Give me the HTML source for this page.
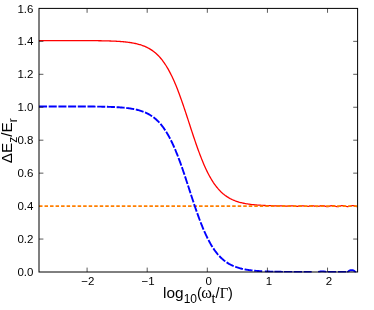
<!DOCTYPE html>
<html><head><meta charset="utf-8"><style>
html,body{margin:0;padding:0;background:#fff;}
svg{display:block;will-change:transform}
text{font-family:"Liberation Sans",sans-serif;fill:#000}
.tl{font-size:11.5px}
.sb{font-size:11.6px}
.sb2{font-size:12.2px}
.sy{font-family:"Liberation Serif",serif}
.tk{stroke:#000;stroke-width:0.65}
</style></head><body>
<svg width="374" height="310" viewBox="0 0 374 310">
<clipPath id="c"><rect x="39.0" y="8.4" width="318.6" height="264.15"/></clipPath>
<line x1="87.09" y1="272.00" x2="87.09" y2="267.60" class="tk"/><line x1="87.09" y1="8.40" x2="87.09" y2="12.80" class="tk"/><text x="87.89" y="284.8" text-anchor="middle" class="tl">−2</text><line x1="147.20" y1="272.00" x2="147.20" y2="267.60" class="tk"/><line x1="147.20" y1="8.40" x2="147.20" y2="12.80" class="tk"/><text x="148.00" y="284.8" text-anchor="middle" class="tl">−1</text><line x1="207.32" y1="272.00" x2="207.32" y2="267.60" class="tk"/><line x1="207.32" y1="8.40" x2="207.32" y2="12.80" class="tk"/><text x="208.82" y="284.8" text-anchor="middle" class="tl">0</text><line x1="267.43" y1="272.00" x2="267.43" y2="267.60" class="tk"/><line x1="267.43" y1="8.40" x2="267.43" y2="12.80" class="tk"/><text x="268.93" y="284.8" text-anchor="middle" class="tl">1</text><line x1="327.54" y1="272.00" x2="327.54" y2="267.60" class="tk"/><line x1="327.54" y1="8.40" x2="327.54" y2="12.80" class="tk"/><text x="329.04" y="284.8" text-anchor="middle" class="tl">2</text><text x="33.4" y="276.10" text-anchor="end" class="tl">0.0</text><line x1="39.00" y1="239.05" x2="43.40" y2="239.05" class="tk"/><line x1="357.60" y1="239.05" x2="353.20" y2="239.05" class="tk"/><text x="33.4" y="243.15" text-anchor="end" class="tl">0.2</text><text x="33.4" y="210.20" text-anchor="end" class="tl">0.4</text><line x1="39.00" y1="173.15" x2="43.40" y2="173.15" class="tk"/><line x1="357.60" y1="173.15" x2="353.20" y2="173.15" class="tk"/><text x="33.4" y="177.25" text-anchor="end" class="tl">0.6</text><line x1="39.00" y1="140.20" x2="43.40" y2="140.20" class="tk"/><line x1="357.60" y1="140.20" x2="353.20" y2="140.20" class="tk"/><text x="33.4" y="144.30" text-anchor="end" class="tl">0.8</text><line x1="39.00" y1="107.25" x2="43.40" y2="107.25" class="tk"/><line x1="357.60" y1="107.25" x2="353.20" y2="107.25" class="tk"/><text x="33.4" y="111.35" text-anchor="end" class="tl">1.0</text><line x1="39.00" y1="74.30" x2="43.40" y2="74.30" class="tk"/><line x1="357.60" y1="74.30" x2="353.20" y2="74.30" class="tk"/><text x="33.4" y="78.40" text-anchor="end" class="tl">1.2</text><line x1="39.00" y1="41.35" x2="43.40" y2="41.35" class="tk"/><line x1="357.60" y1="41.35" x2="353.20" y2="41.35" class="tk"/><text x="33.4" y="45.45" text-anchor="end" class="tl">1.4</text><text x="33.4" y="12.50" text-anchor="end" class="tl">1.6</text>
<rect x="39.0" y="8.4" width="318.6" height="263.6" fill="none" stroke="#000" stroke-width="1.0"/>
<g clip-path="url(#c)" style="mix-blend-mode:multiply">
<path d="M39.00,40.53 L39.80,40.53 L40.59,40.53 L41.39,40.53 L42.19,40.53 L42.98,40.53 L43.78,40.53 L44.58,40.53 L45.37,40.53 L46.17,40.53 L46.96,40.53 L47.76,40.53 L48.56,40.53 L49.35,40.53 L50.15,40.53 L50.95,40.53 L51.74,40.53 L52.54,40.53 L53.34,40.53 L54.13,40.53 L54.93,40.53 L55.73,40.53 L56.52,40.53 L57.32,40.54 L58.12,40.54 L58.91,40.54 L59.71,40.54 L60.51,40.54 L61.30,40.54 L62.10,40.54 L62.89,40.54 L63.69,40.54 L64.49,40.54 L65.28,40.54 L66.08,40.54 L66.88,40.54 L67.67,40.55 L68.47,40.55 L69.27,40.55 L70.06,40.55 L70.86,40.55 L71.66,40.55 L72.45,40.55 L73.25,40.56 L74.05,40.56 L74.84,40.56 L75.64,40.56 L76.44,40.56 L77.23,40.57 L78.03,40.57 L78.82,40.57 L79.62,40.57 L80.42,40.58 L81.21,40.58 L82.01,40.58 L82.81,40.59 L83.60,40.59 L84.40,40.59 L85.20,40.60 L85.99,40.60 L86.79,40.61 L87.59,40.61 L88.38,40.62 L89.18,40.62 L89.98,40.63 L90.77,40.64 L91.57,40.64 L92.37,40.65 L93.16,40.66 L93.96,40.67 L94.75,40.67 L95.55,40.68 L96.35,40.69 L97.14,40.70 L97.94,40.71 L98.74,40.73 L99.53,40.74 L100.33,40.75 L101.13,40.76 L101.92,40.78 L102.72,40.79 L103.52,40.81 L104.31,40.83 L105.11,40.85 L105.91,40.86 L106.70,40.89 L107.50,40.91 L108.30,40.93 L109.09,40.95 L109.89,40.98 L110.68,41.01 L111.48,41.04 L112.28,41.07 L113.07,41.10 L113.87,41.14 L114.67,41.17 L115.46,41.21 L116.26,41.25 L117.06,41.30 L117.85,41.35 L118.65,41.40 L119.45,41.45 L120.24,41.50 L121.04,41.56 L121.84,41.63 L122.63,41.69 L123.43,41.76 L124.23,41.84 L125.02,41.92 L125.82,42.00 L126.61,42.09 L127.41,42.19 L128.21,42.29 L129.00,42.39 L129.80,42.50 L130.60,42.62 L131.39,42.75 L132.19,42.88 L132.99,43.02 L133.78,43.17 L134.58,43.33 L135.38,43.50 L136.17,43.68 L136.97,43.87 L137.77,44.07 L138.56,44.28 L139.36,44.50 L140.16,44.74 L140.95,44.99 L141.75,45.25 L142.54,45.53 L143.34,45.83 L144.14,46.14 L144.93,46.47 L145.73,46.82 L146.53,47.18 L147.32,47.57 L148.12,47.98 L148.92,48.42 L149.71,48.87 L150.51,49.35 L151.31,49.86 L152.10,50.40 L152.90,50.96 L153.70,51.56 L154.49,52.18 L155.29,52.84 L156.09,53.53 L156.88,54.26 L157.68,55.02 L158.47,55.82 L159.27,56.67 L160.07,57.55 L160.86,58.47 L161.66,59.44 L162.46,60.46 L163.25,61.52 L164.05,62.63 L164.85,63.79 L165.64,65.00 L166.44,66.26 L167.24,67.57 L168.03,68.93 L168.83,70.36 L169.63,71.83 L170.42,73.36 L171.22,74.95 L172.02,76.59 L172.81,78.29 L173.61,80.04 L174.41,81.85 L175.20,83.71 L176.00,85.62 L176.79,87.59 L177.59,89.61 L178.39,91.68 L179.18,93.80 L179.98,95.96 L180.78,98.16 L181.57,100.40 L182.37,102.68 L183.17,105.00 L183.96,107.34 L184.76,109.71 L185.56,112.11 L186.35,114.52 L187.15,116.95 L187.95,119.39 L188.74,121.84 L189.54,124.29 L190.34,126.74 L191.13,129.18 L191.93,131.61 L192.72,134.03 L193.52,136.43 L194.32,138.80 L195.11,141.16 L195.91,143.48 L196.71,145.76 L197.50,148.01 L198.30,150.23 L199.10,152.40 L199.89,154.52 L200.69,156.60 L201.49,158.63 L202.28,160.61 L203.08,162.53 L203.88,164.41 L204.67,166.23 L205.47,167.99 L206.27,169.70 L207.06,171.35 L207.86,172.95 L208.65,174.49 L209.45,175.98 L210.25,177.41 L211.04,178.78 L211.84,180.11 L212.64,181.38 L213.43,182.60 L214.23,183.77 L215.03,184.89 L215.82,185.96 L216.62,186.98 L217.42,187.96 L218.21,188.89 L219.01,189.78 L219.81,190.63 L220.60,191.44 L221.40,192.22 L222.19,192.95 L222.99,193.65 L223.79,194.31 L224.58,194.95 L225.38,195.55 L226.18,196.12 L226.97,196.66 L227.77,197.17 L228.57,197.66 L229.36,198.12 L230.16,198.56 L230.96,198.97 L231.75,199.36 L232.55,199.74 L233.35,200.09 L234.14,200.42 L234.94,200.74 L235.74,201.04 L236.53,201.32 L237.33,201.59 L238.12,201.84 L238.92,202.08 L239.72,202.30 L240.51,202.52 L241.31,202.72 L242.11,202.91 L242.90,203.09 L243.70,203.26 L244.50,203.42 L245.29,203.57 L246.09,203.72 L246.89,203.85 L247.68,203.98 L248.48,204.10 L249.28,204.21 L250.07,204.32 L250.87,204.42 L251.67,204.52 L252.46,204.61 L253.26,204.69 L254.06,204.77 L254.85,204.85 L255.65,204.92 L256.44,204.99 L257.24,205.05 L258.04,205.11 L258.83,205.17 L259.63,205.22 L260.43,205.27 L261.22,205.32 L262.02,205.36 L262.82,205.40 L263.61,205.44 L264.41,205.48 L265.21,205.52 L266.00,205.55 L266.80,205.58 L267.60,205.61 L268.39,205.64 L269.19,205.66 L269.99,205.68 L270.78,205.69 L271.58,205.70 L272.37,205.73 L273.17,205.76 L273.97,205.81 L274.76,205.85 L275.56,205.89 L276.36,205.92 L277.15,205.93 L277.95,205.92 L278.75,205.89 L279.54,205.85 L280.34,205.82 L281.14,205.81 L281.93,205.82 L282.73,205.86 L283.53,205.92 L284.32,206.00 L285.12,206.07 L285.91,206.12 L286.71,206.14 L287.51,206.12 L288.30,206.06 L289.10,205.99 L289.90,205.91 L290.69,205.85 L291.49,205.82 L292.29,205.84 L293.08,205.90 L293.88,206.00 L294.68,206.11 L295.47,206.21 L296.27,206.27 L297.07,206.28 L297.86,206.23 L298.66,206.13 L299.46,206.01 L300.25,205.89 L301.05,205.81 L301.84,205.78 L302.64,205.82 L303.44,205.92 L304.23,206.06 L305.03,206.21 L305.83,206.33 L306.62,206.39 L307.42,206.38 L308.22,206.30 L309.01,206.16 L309.81,205.99 L310.61,205.84 L311.40,205.74 L312.20,205.72 L313.00,205.78 L313.79,205.92 L314.59,206.11 L315.39,206.29 L316.18,206.43 L316.98,206.49 L317.77,206.46 L318.57,206.34 L319.37,206.15 L320.16,205.94 L320.96,205.76 L321.76,205.66 L322.55,205.65 L323.35,205.75 L324.15,205.93 L324.94,206.16 L325.74,206.38 L326.54,206.53 L327.33,206.59 L328.13,206.52 L328.93,206.35 L329.72,206.12 L330.52,205.89 L331.32,205.70 L332.11,205.61 L332.91,205.63 L333.70,205.76 L334.50,205.97 L335.30,206.21 L336.09,206.42 L336.89,206.56 L337.69,206.59 L338.48,206.50 L339.28,206.32 L340.08,206.08 L340.87,205.85 L341.67,205.68 L342.47,205.60 L343.26,205.65 L344.06,205.80 L344.86,206.02 L345.65,206.26 L346.45,206.46 L347.25,206.58 L348.04,206.58 L348.84,206.47 L349.63,206.28 L350.43,206.04 L351.23,205.81 L352.02,205.66 L352.82,205.61 L353.62,205.67 L354.41,205.83 L355.21,206.06 L356.01,206.30 L356.80,206.49 L357.60,206.59" fill="none" stroke="#ff0000" stroke-width="1.3"/>
<line x1="39.0" y1="206.10" x2="357.6" y2="206.10" stroke="#ff7f00" stroke-width="1.7" stroke-dasharray="3.5,2.02"/>
<path d="M39.00,106.43 L39.75,106.43 L40.50,106.43 L41.24,106.43 L41.99,106.43 L42.74,106.43 L43.49,106.43 L44.24,106.43 L44.98,106.43 L45.73,106.43 L46.48,106.43 L47.23,106.43 L47.98,106.43 L48.72,106.43 L49.47,106.43 L50.22,106.43 L50.97,106.43 L51.72,106.43 L52.46,106.43 L53.21,106.43 L53.96,106.43 L54.71,106.43 L55.46,106.43 L56.20,106.43 L56.95,106.44 L57.70,106.44 L58.45,106.44 L59.20,106.44 L59.94,106.44 L60.69,106.44 L61.44,106.44 L62.19,106.44 L62.94,106.44 L63.68,106.44 L64.43,106.44 L65.18,106.44 L65.93,106.44 L66.68,106.44 L67.42,106.45 L68.17,106.45 L68.92,106.45 L69.67,106.45 L70.42,106.45 L71.16,106.45 L71.91,106.45 L72.66,106.45 L73.41,106.46 L74.16,106.46 L74.90,106.46 L75.65,106.46 L76.40,106.46 L77.15,106.47 L77.90,106.47 L78.64,106.47 L79.39,106.47 L80.14,106.48 L80.89,106.48 L81.64,106.48 L82.38,106.49 L83.13,106.49 L83.88,106.49 L84.63,106.50 L85.38,106.50 L86.12,106.50 L86.87,106.51 L87.62,106.51 L88.37,106.52 L89.12,106.52 L89.86,106.53 L90.61,106.53 L91.36,106.54 L92.11,106.55 L92.86,106.55 L93.60,106.56 L94.35,106.57 L95.10,106.58 L95.85,106.59 L96.60,106.60 L97.34,106.61 L98.09,106.62 L98.84,106.63 L99.59,106.64 L100.34,106.65 L101.08,106.66 L101.83,106.68 L102.58,106.69 L103.33,106.71 L104.08,106.72 L104.82,106.74 L105.57,106.76 L106.32,106.78 L107.07,106.80 L107.82,106.82 L108.56,106.84 L109.31,106.86 L110.06,106.89 L110.81,106.91 L111.56,106.94 L112.30,106.97 L113.05,107.00 L113.80,107.03 L114.55,107.07 L115.30,107.10 L116.04,107.14 L116.79,107.18 L117.54,107.23 L118.29,107.27 L119.04,107.32 L119.78,107.37 L120.53,107.43 L121.28,107.48 L122.03,107.54 L122.78,107.61 L123.52,107.67 L124.27,107.74 L125.02,107.82 L125.77,107.90 L126.52,107.98 L127.26,108.07 L128.01,108.16 L128.76,108.26 L129.51,108.36 L130.26,108.47 L131.00,108.59 L131.75,108.71 L132.50,108.84 L133.25,108.97 L134.00,109.12 L134.74,109.27 L135.49,109.43 L136.24,109.59 L136.99,109.77 L137.74,109.96 L138.48,110.16 L139.23,110.36 L139.98,110.58 L140.73,110.81 L141.48,111.06 L142.22,111.32 L142.97,111.59 L143.72,111.87 L144.47,112.17 L145.22,112.49 L145.96,112.82 L146.71,113.17 L147.46,113.54 L148.21,113.93 L148.96,114.34 L149.70,114.77 L150.45,115.22 L151.20,115.69 L151.95,116.19 L152.70,116.72 L153.44,117.26 L154.19,117.84 L154.94,118.45 L155.69,119.08 L156.44,119.75 L157.18,120.44 L157.93,121.17 L158.68,121.94 L159.43,122.74 L160.18,123.57 L160.92,124.45 L161.67,125.36 L162.42,126.31 L163.17,127.30 L163.92,128.34 L164.66,129.42 L165.41,130.54 L166.16,131.71 L166.91,132.92 L167.66,134.18 L168.40,135.49 L169.15,136.85 L169.90,138.25 L170.65,139.70 L171.40,141.21 L172.14,142.76 L172.89,144.36 L173.64,146.01 L174.39,147.71 L175.14,149.45 L175.88,151.25 L176.63,153.09 L177.38,154.97 L178.13,156.90 L178.88,158.87 L179.62,160.88 L180.37,162.93 L181.12,165.02 L181.87,167.14 L182.62,169.29 L183.36,171.48 L184.11,173.68 L184.86,175.91 L185.61,178.17 L186.36,180.43 L187.10,182.71 L187.85,185.01 L188.60,187.30 L189.35,189.60 L190.10,191.90 L190.84,194.20 L191.59,196.49 L192.34,198.76 L193.09,201.03 L193.84,203.27 L194.58,205.49 L195.33,207.69 L196.08,209.87 L196.83,212.01 L197.58,214.12 L198.32,216.19 L199.07,218.23 L199.82,220.23 L200.57,222.18 L201.32,224.10 L202.06,225.97 L202.81,227.79 L203.56,229.57 L204.31,231.30 L205.06,232.98 L205.80,234.62 L206.55,236.20 L207.30,237.74 L208.05,239.22 L208.80,240.66 L209.54,242.05 L210.29,243.39 L211.04,244.68 L211.79,245.92 L212.54,247.12 L213.28,248.27 L214.03,249.38 L214.78,250.44 L215.53,251.46 L216.28,252.44 L217.02,253.38 L217.77,254.28 L218.52,255.14 L219.27,255.97 L220.02,256.75 L220.76,257.50 L221.51,258.22 L222.26,258.91 L223.01,259.56 L223.76,260.19 L224.50,260.78 L225.25,261.35 L226.00,261.89 L226.75,262.41 L227.50,262.90 L228.24,263.36 L228.99,263.81 L229.74,264.23 L230.49,264.63 L231.24,265.01 L231.98,265.37 L232.73,265.72 L233.48,266.05 L234.23,266.36 L234.98,266.65 L235.72,266.93 L236.47,267.20 L237.22,267.45 L237.97,267.69 L238.72,267.92 L239.46,268.13 L240.21,268.34 L240.96,268.53 L241.71,268.72 L242.46,268.89 L243.20,269.06 L243.95,269.21 L244.70,269.36 L245.45,269.50 L246.20,269.63 L246.94,269.76 L247.69,269.88 L248.44,269.99 L249.19,270.10 L249.94,270.20 L250.68,270.30 L251.43,270.39 L252.18,270.48 L252.93,270.56 L253.68,270.63 L254.42,270.71 L255.17,270.78 L255.92,270.84 L256.67,270.90 L257.42,270.96 L258.16,271.02 L258.91,271.07 L259.66,271.12 L260.41,271.17 L261.16,271.21 L261.90,271.26 L262.65,271.30 L263.40,271.33" fill="none" stroke="#0000ff" stroke-width="1.9" stroke-dasharray="8.05,1.65"/>
<path d="M264.80,271.40 L265.08,271.41 L265.37,271.42 L265.65,271.44 L265.93,271.45 L266.22,271.46 L266.50,271.47 L266.78,271.48 L267.07,271.49 L267.35,271.50 L267.63,271.51 L267.92,271.52 L268.20,271.53 L268.48,271.54 L268.77,271.55 L269.05,271.56 L269.33,271.57 L269.62,271.58 L269.90,271.59 L270.18,271.60 L270.47,271.61 L270.75,271.61 L271.03,271.62 L271.32,271.63 L271.60,271.64 L271.88,271.64 L272.17,271.65 L272.45,271.66 L272.73,271.67 L273.02,271.67 L273.30,271.68 M274.40,271.71 L274.68,271.71 L274.97,271.72 L275.25,271.72 L275.53,271.73 L275.82,271.73 L276.10,271.74 L276.38,271.75 L276.67,271.75 L276.95,271.76 L277.23,271.76 L277.52,271.77 L277.80,271.77 L278.08,271.78 L278.37,271.78 L278.65,271.79 L278.93,271.79 L279.22,271.79 L279.50,271.80 L279.78,271.80 L280.07,271.81 L280.35,271.81 L280.63,271.81 L280.92,271.82 L281.20,271.82 L281.48,271.83 L281.77,271.83 L282.05,271.83 L282.33,271.84 L282.62,271.84 L282.90,271.84 M284.00,271.86 L284.28,271.86 L284.55,271.86 L284.83,271.86 L285.11,271.87 L285.38,271.87 L285.66,271.87 L285.94,271.87 L286.21,271.88 L286.49,271.88 L286.77,271.88 L287.04,271.88 L287.32,271.89 L287.60,271.89 L287.87,271.89 L288.15,271.89 L288.43,271.90 L288.70,271.90 L288.98,271.90 L289.26,271.90 L289.53,271.90 L289.81,271.91 L290.09,271.91 L290.36,271.91 L290.64,271.91 L290.92,271.91 L291.19,271.92 L291.47,271.92 L291.75,271.92 L292.02,271.92 L292.30,271.92 M293.70,271.93 L293.98,271.93 L294.26,271.93 L294.54,271.93 L294.82,271.94 L295.10,271.94 L295.38,271.94 L295.66,271.94 L295.94,271.94 L296.22,271.94 L296.50,271.94 L296.78,271.94 L297.06,271.95 L297.34,271.95 L297.62,271.95 L297.90,271.95 L298.18,271.95 L298.46,271.95 L298.74,271.95 L299.02,271.95 L299.30,271.95 L299.58,271.95 L299.86,271.96 L300.14,271.96 L300.42,271.96 L300.70,271.96 L300.98,271.96 L301.26,271.96 L301.54,271.96 L301.82,271.96 L302.10,271.96 M303.70,271.97 L303.97,271.97 L304.23,271.97 L304.50,271.97 L304.77,271.97 L305.03,271.97 L305.30,271.97 L305.57,271.97 L305.83,271.97 L306.10,271.97 L306.37,271.97 L306.63,271.97 L306.90,271.97 L307.17,271.97 L307.43,271.97 L307.70,271.98 L307.97,271.98 L308.23,271.98 L308.50,271.98 L308.77,271.98 L309.03,271.98 L309.30,271.98 L309.57,271.98 L309.83,271.98 L310.10,271.98 L310.37,271.98 L310.63,271.98 L310.90,271.98 L311.17,271.98 L311.43,271.98 L311.70,271.98 M318.10,271.90 L318.38,271.87 L318.66,271.84 L318.94,271.80 L319.22,271.76 L319.50,271.72 L319.78,271.67 L320.06,271.61 L320.34,271.56 L320.62,271.51 L320.90,271.46 L321.18,271.42 L321.46,271.38 L321.74,271.36 L322.02,271.34 L322.30,271.33 L322.58,271.34 L322.86,271.35 L323.14,271.38 L323.42,271.42 L323.70,271.46 L323.98,271.51 L324.26,271.56 L324.54,271.61 L324.82,271.66 L325.10,271.71 L325.38,271.76 L325.66,271.80 L325.94,271.84 L326.22,271.87 L326.50,271.90 M327.80,271.97 L328.08,271.98 L328.35,271.98 L328.63,271.99 L328.91,271.99 L329.18,271.99 L329.46,271.99 L329.74,271.99 L330.01,271.99 L330.29,271.99 L330.57,272.00 L330.84,272.00 L331.12,272.00 L331.40,272.00 L331.67,272.00 L331.95,272.00 L332.23,272.00 L332.50,272.00 L332.78,272.00 L333.06,272.00 L333.33,272.00 L333.61,272.00 L333.89,272.00 L334.16,272.00 L334.44,272.00 L334.72,272.00 L334.99,272.00 L335.27,272.00 L335.55,272.00 L335.82,272.00 L336.10,272.00 M338.00,272.00 L338.27,272.00 L338.54,272.00 L338.81,272.00 L339.08,272.00 L339.35,272.00 L339.62,272.00 L339.89,272.00 L340.16,272.00 L340.43,272.00 L340.70,272.00 L340.97,272.00 L341.24,272.00 L341.51,272.00 L341.78,272.00 L342.05,272.00 L342.32,272.00 L342.59,272.00 L342.86,272.00 L343.13,272.00 L343.40,272.00 L343.67,272.00 L343.94,272.00 L344.21,272.00 L344.48,272.00 L344.75,272.00 L345.02,272.00 L345.29,272.00 L345.56,272.00 L345.83,272.00 L346.10,272.00 M347.10,271.97 L347.40,271.93 L347.70,271.84 L348.00,271.69 L348.30,271.49 L348.60,271.25 L348.90,271.00 L349.20,270.77 L349.50,270.58 L349.80,270.44 L350.10,270.36 L350.40,270.30 L350.70,270.28 L351.00,270.27 L351.30,270.27 L351.60,270.27 L351.90,270.27 L352.20,270.27 L352.50,270.28 L352.80,270.31 L353.10,270.36 L353.40,270.45 L353.70,270.59 L354.00,270.79 L354.30,271.02 L354.60,271.27 L354.90,271.51 L355.20,271.71 L355.50,271.85 L355.80,271.94 L356.10,271.98" fill="none" stroke="#0000ff" stroke-width="1.9"/>
</g>
<g style="font-size:14.5px"><text x="163.0" y="298.1" style="font-size:15.4px">log</text><text x="183.7" y="302.5" class="sb" style="font-size:12.0px">10</text><text x="197.1" y="298">(</text><text x="201.3" y="298" class="sy" style="font-size:16.2px">&#969;</text><text x="211.5" y="302.9" style="font-size:13.6px">t</text><text x="215.4" y="298">/</text><text x="219.85" y="298" class="sy" style="font-size:15px">&#915;</text><text x="228.1" y="298">)</text></g>
<g transform="translate(12.3,163.2) rotate(-90)" style="font-size:15.2px"><text x="0" y="0">&#916;E</text><text x="20.4" y="4.6" class="sb2">z</text><text x="26.5" y="0">/E</text><text x="40.9" y="4.6" class="sb2">r</text></g>
</svg>
</body></html>
